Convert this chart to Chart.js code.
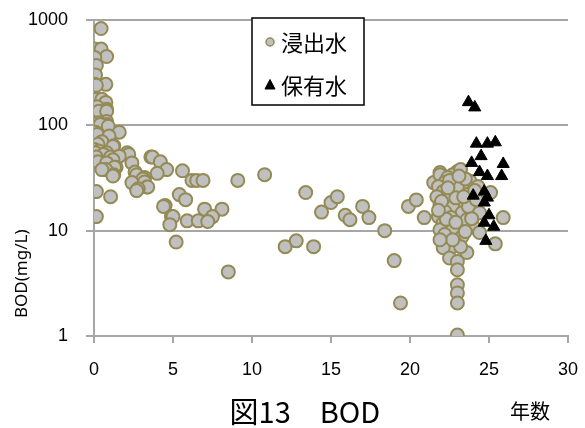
<!DOCTYPE html>
<html>
<head>
<meta charset="utf-8">
<script src="https://cdn.jsdelivr.net/npm/chart.js@4/dist/chart.umd.min.js"></script>
<style>
  html, body { margin: 0; padding: 0; background: #fff; }
  #wrap { width: 585px; height: 428px; position: relative; }
</style>
</head>
<body>
<div id="wrap"><canvas id="c"></canvas></div>
<script>
// Series names
const seriesNames = ['浸出水', '保有水'];

// 浸出水: elapsed years and BOD (mg/L)
const leachateX = [
  0.45, 0.05, 0.45, 0.8, 0.05, 0.15, 0.1, 0.05, 0.75, 0.15, 0.15, 0.5, 0.75, 0.2, 0.8, 0.5, 0.3, 0.8, 0.8, 0.3,
  0.8, 0.4, 0.9, 1.6, 0.1, 0.2, 0.95, 0.5, 0.25, 1.25, 1.2, 0.02, 0.3, 0.8, 0.1, 0.6, 2.1, 2.2, 0.15, 1.05,
  1.6, 3.6, 3.7, 1.2, 2.4, 0.5, 0.25, 0.8, 4.2, 1.4, 1.3, 0.75, 0.5, 4.6, 5.6, 4.0, 2.6, 2.7, 1.25, 1.2,
  3.2, 3.1, 3.2, 2.4, 3.35, 3.4, 2.8, 2.7, 6.2, 6.5, 6.9, 9.1, 10.8, 0.15, 1.05, 5.4, 5.8, 4.5, 4.4, 7.0,
  8.1, 4.9, 5.0, 7.5, 4.8, 5.9, 6.6, 7.2, 0.15, 5.2, 8.5,
  12.1, 12.8, 13.4, 13.9, 14.4, 15.0, 15.4, 15.9, 16.2, 17.0, 17.4, 18.4, 19.0, 19.4, 19.9, 20.4, 20.9,
  21.5, 21.9, 23.0, 22.7, 21.9, 22.4, 23.8, 22.2, 21.8, 23.3, 22.1, 22.7, 23.6, 21.7, 22.4, 23.2, 21.9, 22.7,
  23.8, 22.2, 23.3, 21.8, 22.6, 24.0, 22.1, 23.2, 21.9, 22.7, 23.8, 22.2, 23.3, 22.1, 22.8, 22.6, 23.2, 24.3,
  22.1, 22.5, 23.0, 23.0, 23.6, 23.0, 23.0, 23.0, 23.0, 25.4, 25.9, 25.1, 24.0, 24.4, 23.0, 23.7, 23.6, 23.2,
  22.7, 21.9, 24.2, 24.4, 22.5, 23.5, 22.0, 22.9, 23.4, 22.3, 23.5, 22.9, 21.8, 22.4, 23.1, 24.1, 23.9
];
const leachateY = [
  830, 530, 530, 450, 440, 370, 300, 245, 245, 240, 177, 177, 165, 150, 142, 127, 136, 136, 109, 106,
  102, 102, 98, 86, 86, 82, 79, 70, 66, 64, 63, 59, 57, 55, 55, 53, 55, 53, 50, 50,
  51, 50, 50, 47, 44, 44, 45, 44, 45, 40, 40, 38, 38, 38, 37, 35, 36, 34, 34, 33,
  32, 31, 29, 28.6, 26, 26, 25, 24, 30, 30, 30, 30, 34, 23.5, 21, 22, 19.7, 17.3, 17, 16,
  16, 13.6, 13.6, 13.6, 11.4, 12.4, 12.4, 12.2, 13.6, 7.8, 4.06,
  7.05, 8.0, 23, 7.05, 15, 18.5, 21, 14, 12.7, 17, 13.3, 10, 5.2, 2.06, 17, 19.6, 13.3,
  28.6, 35.7, 36.5, 34, 34, 32, 29.5, 28.6, 26.3, 26.3, 23.5, 23, 22, 21, 19.7, 18.9, 17.7, 16.9,
  16.6, 15.2, 14.8, 13.6, 13.3, 13.6, 11.9, 11.4, 10.2, 10.2, 10.7, 9.2, 8.8, 7.7, 7.9, 6.9, 38, 26.3,
  6.9, 5.5, 5.1, 4.25, 6.2, 3.06, 2.56, 2.06, 1.02, 7.5, 13.3, 23, 10.9, 9.6, 26.3, 16.9, 12.7, 7.05,
  8.2, 8.2, 19.7, 14.8, 30, 31, 19, 20.5, 21, 12.8, 9.8, 12, 15.6, 25.5, 33, 24, 13
];

// 保有水: elapsed years and BOD (mg/L)
const retainedX = [23.7, 24.1, 24.2, 24.9, 25.4, 23.9, 24.5, 24.4, 24.9, 25.9, 25.8, 24.0, 24.7, 24.9, 24.7, 25.0, 24.7, 25.3, 24.8];
const retainedY = [166, 148, 67, 67, 69, 44, 51, 36, 33, 43, 33, 21.5, 23.5, 20.6, 18.5, 14, 11.9, 10.9, 8.0];

// Axis ticks and labels
const yTickValues = [1, 10, 100, 1000];
const xTickValues = [0, 5, 10, 15, 20, 25, 30];
const chartTitle = '図13\u3000BOD';
const xAxisTitle = '年数';
const yAxisTitle = 'BOD(mg/L)';

const toPoints = (xs, ys) => xs.map((x, i) => ({ x: x, y: ys[i] }));

const JP_FONT = '"Noto Sans CJK JP", "Noto Sans", sans-serif';
const NUM_FONT = '"Liberation Sans", "Noto Sans", sans-serif';
const GRID = '#a6a6a6';

// Boxed legend drawn inside the plot area
const boxLegend = {
  id: 'boxLegend',
  afterDraw(chart) {
    const { ctx, chartArea } = chart;
    const x0 = chartArea.left + 158, y0 = chartArea.top - 2, w = 112, h = 87;
    ctx.save();
    ctx.fillStyle = '#fff';
    ctx.fillRect(x0, y0, w, h);
    ctx.strokeStyle = '#000';
    ctx.lineWidth = 1.5;
    ctx.strokeRect(x0, y0, w, h);
    ctx.font = '22px ' + JP_FONT;
    ctx.textBaseline = 'middle';
    ctx.textAlign = 'left';
    const rows = [y0 + 24, y0 + 67];
    chart.data.datasets.forEach((ds, i) => {
      const cy = rows[i];
      ctx.fillStyle = ds.backgroundColor;
      ctx.strokeStyle = ds.borderColor;
      ctx.lineWidth = ds.pointStyle === 'triangle' ? 1 : 1.5;
      ctx.beginPath();
      if (ds.pointStyle === 'triangle') {
        ctx.moveTo(x0 + 18, cy - 5.5);
        ctx.lineTo(x0 + 23, cy + 4);
        ctx.lineTo(x0 + 13, cy + 4);
        ctx.closePath();
      } else {
        ctx.arc(x0 + 18, cy, 4, 0, Math.PI * 2);
      }
      ctx.fill();
      ctx.stroke();
      ctx.fillStyle = '#000';
      ctx.fillText(ds.label, x0 + 29, cy + 1);
    });
    ctx.restore();
  }
};

// Figure caption, x-axis caption and rotated y-axis caption
const captions = {
  id: 'captions',
  afterDraw(chart) {
    const { ctx } = chart;
    const xs = chart.scales.x;
    const ys = chart.scales.y;
    ctx.save();
    ctx.fillStyle = '#000';
    ctx.textAlign = 'center';
    ctx.textBaseline = 'middle';
    ctx.font = '29px ' + JP_FONT;
    ctx.fillText(chartTitle, xs.getPixelForValue(13.35), 412);
    ctx.font = '20px ' + JP_FONT;
    ctx.fillText(xAxisTitle, xs.getPixelForValue(27.6), 411);
    ctx.translate(22, ys.getPixelForValue(3.9));
    ctx.rotate(-Math.PI / 2);
    ctx.font = '17px "Noto Sans", sans-serif';
    ctx.fillText(yAxisTitle, 0, 0);
    ctx.restore();
  }
};

new Chart(document.getElementById('c'), {
  type: 'scatter',
  data: {
    datasets: [
      {
        label: seriesNames[0],
        data: toPoints(leachateX, leachateY),
        pointStyle: 'circle',
        pointRadius: 6.5,
        pointHoverRadius: 6.5,
        backgroundColor: '#c0c0c0',
        borderColor: '#948a54',
        borderWidth: 2,
        order: 1
      },
      {
        label: seriesNames[1],
        data: toPoints(retainedX, retainedY),
        pointStyle: 'triangle',
        pointRadius: 7,
        pointHoverRadius: 7,
        backgroundColor: '#000',
        borderColor: '#000',
        borderWidth: 1,
        order: 0
      }
    ]
  },
  options: {
    responsive: true,
    maintainAspectRatio: false,
    devicePixelRatio: 1,
    animation: false,
    events: [],
    layout: { padding: { top: 20, right: 17, left: 0, bottom: 0 } },
    plugins: {
      legend: { display: false },
      tooltip: { enabled: false },
      title: { display: false }
    },
    scales: {
      x: {
        type: 'linear',
        min: 0,
        max: 30,
        afterBuildTicks(scale) { scale.ticks = xTickValues.map(v => ({ value: v })); },
        afterFit(scale) {
          scale.height = 92;
          scale.paddingLeft = 0;
          scale.paddingRight = 0;
        },
        grid: { drawOnChartArea: false, drawTicks: true, tickLength: 7, color: GRID, lineWidth: 2 },
        border: { color: GRID, width: 2 },
        ticks: { color: '#000', font: { family: NUM_FONT, size: 18 }, padding: 16, maxRotation: 0 }
      },
      y: {
        type: 'logarithmic',
        min: 1,
        max: 1000,
        afterBuildTicks(scale) { scale.ticks = yTickValues.map(v => ({ value: v })); },
        afterFit(scale) {
          scale.width = 94;
          scale.paddingTop = 0;
          scale.paddingBottom = 0;
        },
        grid: { color: GRID, lineWidth: 2, tickLength: 8 },
        border: { color: GRID, width: 2 },
        ticks: {
          color: '#000',
          font: { family: NUM_FONT, size: 18 },
          padding: 18,
          callback: v => String(v)
        }
      }
    }
  },
  plugins: [boxLegend, captions]
});
</script>
</body>
</html>
